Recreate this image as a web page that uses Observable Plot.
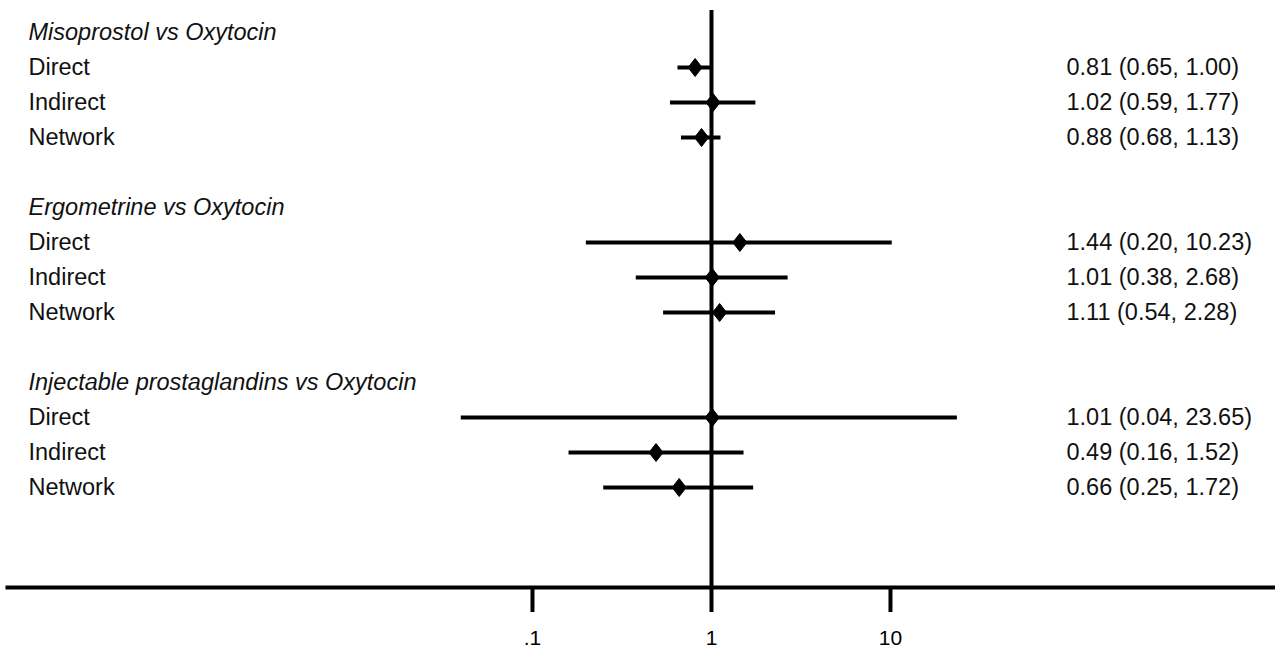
<!DOCTYPE html>
<html>
<head>
<meta charset="utf-8">
<script src="https://cdn.jsdelivr.net/npm/d3@7"></script>
<script src="https://cdn.jsdelivr.net/npm/@observablehq/plot@0.6"></script>
<style>
  html, body { margin: 0; padding: 0; background: #fff; }
  svg { display: block; }
</style>
</head>
<body>
<div id="chart"></div>
<script>
// ---- data ----
const groups = ["Misoprostol vs Oxytocin", "Ergometrine vs Oxytocin", "Injectable prostaglandins vs Oxytocin"];
const methods = ["Direct", "Indirect", "Network"];
const estimates = [[0.81, 1.02, 0.88], [1.44, 1.01, 1.11], [1.01, 0.49, 0.66]];
const lowers    = [[0.65, 0.59, 0.68], [0.20, 0.38, 0.54], [0.04, 0.16, 0.25]];
const uppers    = [[1.00, 1.77, 1.13], [10.23, 2.68, 2.28], [23.65, 1.52, 1.72]];
const tickValues = [0.1, 1, 10];
const tickLabels = [".1", "1", "10"];

// ---- build tables ----
const headers = groups.map((g, i) => ({row: i * 5, text: g}));
const rows = [];
groups.forEach((g, i) => {
  methods.forEach((m, j) => {
    rows.push({
      row: i * 5 + 1 + j,
      method: m,
      est: estimates[i][j],
      lo: lowers[i][j],
      hi: uppers[i][j],
      label: `${estimates[i][j].toFixed(2)} (${lowers[i][j].toFixed(2)}, ${uppers[i][j].toFixed(2)})`
    });
  });
});

const diamond = {
  draw(context, size) {
    const r = Math.sqrt(size / Math.PI);
    const w = r * 0.78;
    context.moveTo(0, -r);
    context.lineTo(w, 0);
    context.lineTo(0, r);
    context.lineTo(-w, 0);
    context.closePath();
  }
};

const font = "'Liberation Sans', Arial, sans-serif";
const fs = 23.5;

const chart = Plot.plot({
  width: 1275,
  height: 652,
  marginLeft: 7,
  marginRight: 0,
  marginTop: 10,
  marginBottom: 65,
  style: {fontFamily: font, background: "#fff", color: "#000", overflow: "visible"},
  x: {type: "log", domain: [Math.pow(10, -3.933), Math.pow(10, 3.151)]},
  y: {type: "linear", domain: [15.857, -0.6286], axis: null},
  marks: [
    Plot.ruleX([1], {stroke: "#000", strokeWidth: 4}),
    Plot.frame({anchor: "bottom", stroke: "#000", strokeWidth: 4}),
    Plot.axisX({
      ticks: tickValues,
      tickFormat: d => tickLabels[tickValues.indexOf(d)],
      tickSize: 25,
      tickPadding: 18,
      strokeWidth: 4,
      stroke: "#000",
      fill: "#000",
      fontSize: 21,
      label: null
    }),
    Plot.ruleY(rows, {y: "row", x1: "lo", x2: "hi", stroke: "#000", strokeWidth: 4}),
    Plot.dot(rows, {x: "est", y: "row", r: 9, symbol: diamond, fill: "#000", stroke: "#000", strokeWidth: 1, strokeLinejoin: "round"}),
    Plot.text(headers, {y: "row", text: "text", frameAnchor: "left", dx: 21, textAnchor: "start", fontStyle: "italic", fontSize: fs, fill: "#111"}),
    Plot.text(rows, {y: "row", text: "method", frameAnchor: "left", dx: 21, textAnchor: "start", fontSize: fs, fill: "#111"}),
    Plot.text(rows, {y: "row", text: "label", frameAnchor: "right", dx: -209, textAnchor: "start", fontSize: fs, fill: "#111"})
  ]
});

document.getElementById("chart").appendChild(chart);
</script>
</body>
</html>
